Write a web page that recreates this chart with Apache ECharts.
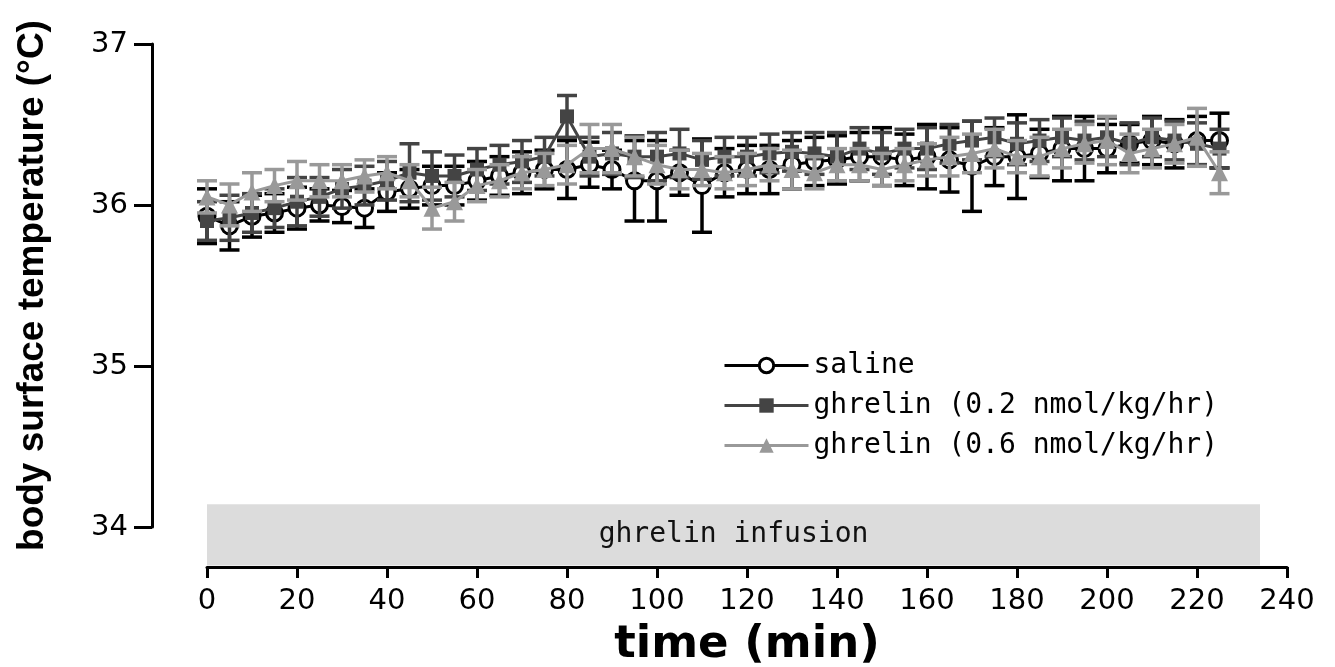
<!DOCTYPE html>
<html>
<head>
<meta charset="utf-8">
<script src="https://cdn.jsdelivr.net/npm/echarts@6/dist/echarts.min.js"></script>
<style>
  html, body { margin: 0; padding: 0; background: #fff; }
  #chart { width: 1335px; height: 667px; }
</style>
</head>
<body>
<div id="chart"></div>
<script>
// time points (min)
const times = [0, 5, 10, 15, 20, 25, 30, 35, 40, 45, 50, 55, 60, 65, 70, 75, 80, 85, 90, 95,
  100, 105, 110, 115, 120, 125, 130, 135, 140, 145, 150, 155, 160, 165, 170, 175, 180, 185, 190, 195,
  200, 205, 210, 215, 220, 225];

// saline: mean and SEM
const salineMean = [35.93, 35.87, 35.93, 35.95, 35.98, 36.00, 35.99, 35.98, 36.08, 36.10, 36.12, 36.12, 36.15, 36.18, 36.20, 36.22, 36.22, 36.25, 36.22, 36.15,
  36.15, 36.20, 36.12, 36.20, 36.22, 36.22, 36.25, 36.27, 36.28, 36.30, 36.30, 36.28, 36.30, 36.28, 36.24, 36.30, 36.30, 36.32, 36.35, 36.35,
  36.35, 36.38, 36.40, 36.38, 36.40, 36.40];
const salineSem = [0.17, 0.15, 0.13, 0.12, 0.13, 0.10, 0.10, 0.12, 0.12, 0.12, 0.12, 0.12, 0.12, 0.12, 0.13, 0.12, 0.18, 0.14, 0.12, 0.25,
  0.25, 0.14, 0.29, 0.15, 0.15, 0.15, 0.15, 0.15, 0.15, 0.15, 0.18, 0.16, 0.20, 0.20, 0.28, 0.18, 0.26, 0.15, 0.20, 0.20,
  0.15, 0.12, 0.15, 0.15, 0.15, 0.17];

// ghrelin 0.2 nmol/kg/hr
const ghr02Mean = [35.90, 35.92, 35.95, 35.98, 36.02, 36.05, 36.10, 36.12, 36.15, 36.20, 36.18, 36.18, 36.22, 36.25, 36.27, 36.30, 36.55, 36.30, 36.32, 36.30,
  36.30, 36.32, 36.28, 36.30, 36.30, 36.32, 36.33, 36.32, 36.30, 36.35, 36.32, 36.35, 36.35, 36.38, 36.40, 36.42, 36.38, 36.40, 36.42, 36.40,
  36.42, 36.38, 36.42, 36.40, 36.38, 36.35];
const ghr02Sem = [0.12, 0.14, 0.12, 0.12, 0.15, 0.12, 0.12, 0.12, 0.12, 0.18, 0.15, 0.13, 0.13, 0.12, 0.13, 0.12, 0.13, 0.12, 0.13, 0.13,
  0.15, 0.15, 0.12, 0.12, 0.12, 0.12, 0.12, 0.13, 0.15, 0.13, 0.13, 0.12, 0.13, 0.12, 0.12, 0.12, 0.13, 0.13, 0.12, 0.12,
  0.12, 0.13, 0.12, 0.12, 0.13, 0.12];

// ghrelin 0.6 nmol/kg/hr
const ghr06Mean = [36.05, 36.00, 36.08, 36.12, 36.15, 36.15, 36.15, 36.18, 36.20, 36.15, 35.98, 36.02, 36.12, 36.15, 36.20, 36.22, 36.25, 36.35, 36.35, 36.30,
  36.25, 36.22, 36.22, 36.20, 36.22, 36.25, 36.22, 36.20, 36.25, 36.25, 36.22, 36.25, 36.28, 36.30, 36.32, 36.35, 36.30, 36.30, 36.35, 36.38,
  36.40, 36.32, 36.35, 36.38, 36.42, 36.20];
const ghr06Sem = [0.10, 0.13, 0.12, 0.10, 0.12, 0.10, 0.10, 0.10, 0.10, 0.10, 0.13, 0.12, 0.10, 0.10, 0.10, 0.10, 0.12, 0.15, 0.15, 0.12,
  0.12, 0.12, 0.10, 0.10, 0.10, 0.10, 0.12, 0.10, 0.10, 0.10, 0.10, 0.10, 0.10, 0.12, 0.12, 0.12, 0.10, 0.12, 0.12, 0.12,
  0.15, 0.12, 0.12, 0.12, 0.18, 0.13];

// infusion period band
const infusionStart = 0;
const infusionEnd = 234;
const infusionLow = 33.76;
const infusionHigh = 34.14;

const chart = echarts.init(document.getElementById("chart"));

function pairs(mean) {
  return times.map((t, i) => [t, mean[i]]);
}
function bars(mean, sem) {
  return times.map((t, i) => [t, mean[i] - sem[i], mean[i] + sem[i]]);
}
function errorSeries(data, color, z) {
  return {
    type: "custom",
    xAxisIndex: 0,
    yAxisIndex: 0,
    z: z,
    silent: true,
    encode: { x: 0, y: [1, 2] },
    data: data,
    renderItem: function (params, api) {
      const x = api.value(0);
      const lo = api.coord([x, api.value(1)]);
      const hi = api.coord([x, api.value(2)]);
      const w = 10;
      const style = { stroke: color, lineWidth: 3.5 };
      return {
        type: "group",
        children: [
          { type: "line", shape: { x1: lo[0], y1: lo[1], x2: hi[0], y2: hi[1] }, style: style },
          { type: "line", shape: { x1: lo[0] - w, y1: lo[1], x2: lo[0] + w, y2: lo[1] }, style: style },
          { type: "line", shape: { x1: hi[0] - w, y1: hi[1], x2: hi[0] + w, y2: hi[1] }, style: style },
        ],
      };
    },
  };
}

const tickFont = { fontFamily: "DejaVu Sans", fontSize: 29, color: "#000" };

const option = {
  animation: false,
  backgroundColor: "#fff",
  grid: [
    // data area (reaches down to the x axis line)
    { left: 207, right: 48, top: 44, bottom: 100, outerBoundsMode: "none" },
    // y axis area (34 to 37 only)
    { left: 207, right: 48, top: 44, bottom: 140, outerBoundsMode: "none" },
  ],
  xAxis: [
    {
      gridIndex: 0,
      type: "value",
      min: 0,
      max: 240,
      interval: 20,
      name: "time (min)",
      nameLocation: "middle",
      nameGap: 56,
      nameTextStyle: { fontFamily: "DejaVu Sans", fontWeight: "bold", fontSize: 45, color: "#000" },
      axisLine: { show: true, onZero: false, lineStyle: { color: "#000", width: 3 } },
      axisTick: { show: true, length: 11, lineStyle: { color: "#000", width: 3 } },
      axisLabel: Object.assign({ margin: 20 }, tickFont),
      splitLine: { show: false },
    },
    { gridIndex: 1, type: "value", min: 0, max: 240, show: false },
  ],
  yAxis: [
    { gridIndex: 0, type: "value", min: 33.75, max: 37, show: false },
    {
      gridIndex: 1,
      type: "value",
      min: 34,
      max: 37,
      interval: 1,
      offset: 55,
      name: "body surface temperature (°C)",
      nameLocation: "middle",
      nameGap: 101,
      nameTextStyle: { fontFamily: "Liberation Sans", fontWeight: "bold", fontSize: 37, color: "#000" },
      axisLine: { show: true, onZero: false, lineStyle: { color: "#000", width: 3 } },
      axisTick: { show: true, length: 18, lineStyle: { color: "#000", width: 3 } },
      axisLabel: Object.assign({ margin: 24 }, tickFont),
      splitLine: { show: false },
    },
  ],
  legend: {
    orient: "vertical",
    left: 718,
    top: 345,
    itemWidth: 84,
    itemHeight: 18,
    itemGap: 9,
    textStyle: { fontFamily: "DejaVu Sans Mono", fontSize: 28, color: "#000", lineHeight: 31 },
    data: [
      { name: "saline", lineStyle: { width: 3 }, itemStyle: { borderWidth: 3 } },
      { name: "ghrelin (0.2 nmol/kg/hr)", lineStyle: { width: 3 } },
      { name: "ghrelin (0.6 nmol/kg/hr)", lineStyle: { width: 3 } },
    ],
  },
  series: [
    errorSeries(bars(salineMean, salineSem), "#000", 2),
    {
      name: "saline",
      type: "line",
      xAxisIndex: 0,
      yAxisIndex: 0,
      z: 3,
      data: pairs(salineMean),
      symbol: "circle",
      symbolSize: 16,
      showAllSymbol: true,
      lineStyle: { color: "#000", width: 3 },
      itemStyle: { color: "#fff", borderColor: "#000", borderWidth: 3 },
      markArea: {
        silent: true,
        itemStyle: { color: "#dcdcdc" },
        label: {
          show: true,
          position: "inside",
          fontFamily: "DejaVu Sans Mono",
          fontSize: 28,
          color: "#111",
        },
        data: [[
          { name: "ghrelin infusion", xAxis: infusionStart, yAxis: infusionLow },
          { xAxis: infusionEnd, yAxis: infusionHigh },
        ]],
      },
    },
    errorSeries(bars(ghr02Mean, ghr02Sem), "#444", 4),
    {
      name: "ghrelin (0.2 nmol/kg/hr)",
      type: "line",
      xAxisIndex: 0,
      yAxisIndex: 0,
      z: 5,
      data: pairs(ghr02Mean),
      symbol: "rect",
      symbolSize: 14,
      showAllSymbol: true,
      lineStyle: { color: "#444", width: 3 },
      itemStyle: { color: "#444" },
    },
    errorSeries(bars(ghr06Mean, ghr06Sem), "#999", 6),
    {
      name: "ghrelin (0.6 nmol/kg/hr)",
      type: "line",
      xAxisIndex: 0,
      yAxisIndex: 0,
      z: 7,
      data: pairs(ghr06Mean),
      symbol: "triangle",
      symbolSize: 17,
      showAllSymbol: true,
      lineStyle: { color: "#999", width: 3 },
      itemStyle: { color: "#999" },
    },
  ],
};

chart.setOption(option);
</script>
</body>
</html>
